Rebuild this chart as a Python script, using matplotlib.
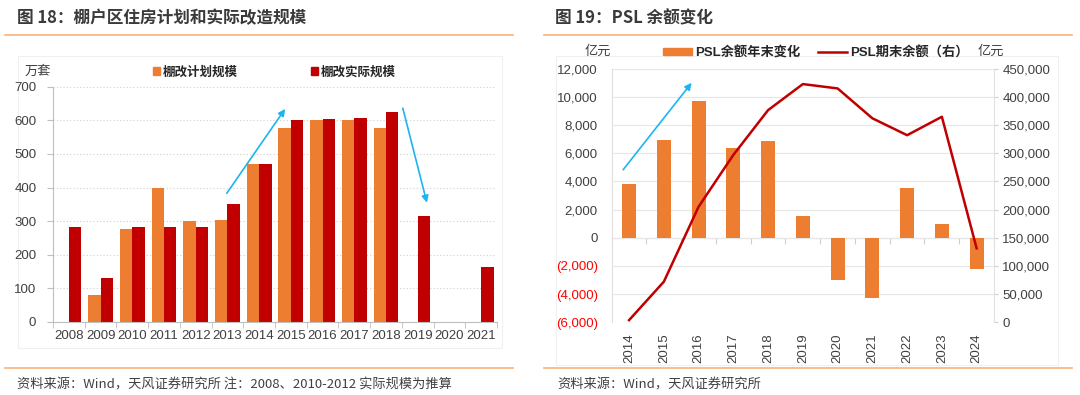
import matplotlib
matplotlib.use('Agg')
import matplotlib.pyplot as plt
import numpy as np
from matplotlib.patches import Rectangle
from matplotlib.lines import Line2D

plt.rcParams['font.family'] = ['Liberation Sans', 'Noto Sans CJK SC']

# ---------------- data ----------------
years_l = ['2008', '2009', '2010', '2011', '2012', '2013', '2014',
           '2015', '2016', '2017', '2018', '2019', '2020', '2021']
plan = [np.nan, 80, 278, 400, 300, 304, 470, 578, 600, 600, 578, np.nan, np.nan, np.nan]
actual = [282, 130, 282, 282, 282, 350, 470, 600, 604, 607, 625, 315, np.nan, 164]

years_r = ['2014', '2015', '2016', '2017', '2018', '2019',
           '2020', '2021', '2022', '2023', '2024']
psl_change = [3800, 6950, 9700, 6360, 6900, 1580, -3020, -4310, 3500, 990, -2240]
psl_balance = [3831, 72000, 205000, 297000, 376500, 422700, 415000, 362000, 332000, 364700, 131300]

ORANGE = '#ED7D31'
RED = '#C00000'
TXT = '#404040'
GRAYAX = '#bfbfbf'
BLUE = '#1EB4F0'
SEP = '#F8B27A'

W, H = 1080, 395
fig = plt.figure(figsize=(W / 100, H / 100), dpi=100)


def px(l, t, r, b):
    return [l / W, 1 - b / H, (r - l) / W, (b - t) / H]


def fx(x):
    return x / W


def fy(y):
    return 1 - y / H


# faint chart-area boxes (drawn behind everything)
for (l, t, r, b) in [(18, 56, 502, 348), (556, 56, 1058, 365)]:
    fig.patches.append(Rectangle((fx(l), fy(b)), fx(r) - fx(l), fy(t) - fy(b),
                                 transform=fig.transFigure, fill=False,
                                 edgecolor='#f0f0f0', lw=0.8, zorder=-5))

# separator lines
for (x0, x1, y) in [(5, 513, 35), (544, 1072, 35), (5, 513, 368), (544, 1072, 368)]:
    fig.add_artist(Line2D([fx(x0), fx(x1)], [fy(y), fy(y)], transform=fig.transFigure,
                          color=SEP, lw=1.2))

# titles
fig.text(fx(17), fy(18), '图 18：棚户区住房计划和实际改造规模', family=['Noto Sans CJK SC'],
         fontsize=12, fontweight='bold', color='#3a3a3a', va='center', ha='left')
fig.text(fx(555), fy(18), '图 19：PSL 余额变化', family=['Noto Sans CJK SC'],
         fontsize=12, fontweight='bold', color='#3a3a3a', va='center', ha='left')

# footers
fig.text(fx(17), fy(385), '资料来源：Wind，天风证券研究所 注：2008、2010-2012 实际规模为推算',
         family=['Noto Sans CJK SC'], fontsize=9.5, color=TXT, va='center', ha='left')
fig.text(fx(557), fy(385), '资料来源：Wind，天风证券研究所',
         family=['Noto Sans CJK SC'], fontsize=9.5, color=TXT, va='center', ha='left')

# ---------------- left chart ----------------
ax = fig.add_axes(px(53, 86.7, 497, 322))
ax.patch.set_alpha(0)
x = np.arange(len(years_l))
w = 0.39
ax.bar(x - w / 2, plan, w, color=ORANGE, zorder=2)
ax.bar(x + w / 2, actual, w, color=RED, zorder=2)
ax.set_xlim(-0.5, len(years_l) - 0.5)
ax.set_ylim(0, 700)
ax.set_yticks(np.arange(0, 701, 100))
ax.yaxis.grid(True, linestyle=(0, (1, 2)), color='#d0d0d0', lw=0.8)
ax.set_axisbelow(True)
for s in ['top', 'right']:
    ax.spines[s].set_visible(False)
for s in ['left', 'bottom']:
    ax.spines[s].set_color(GRAYAX)
    ax.spines[s].set_linewidth(0.8)
ax.set_xticks(x)
ax.set_xticklabels(years_l)
ax.set_xticks(np.arange(-0.5, len(years_l), 1), minor=True)
ax.tick_params(axis='x', which='major', length=0, pad=6, labelsize=9.5, labelcolor=TXT)
ax.tick_params(axis='x', which='minor', length=4, color=GRAYAX)
ax.tick_params(axis='y', length=4, color=GRAYAX, pad=8, labelsize=9.5, labelcolor=TXT)

ann = dict(arrowstyle='-|>', color=BLUE, lw=1.2, mutation_scale=10, shrinkA=0, shrinkB=0)
ax.annotate('', xy=(6.82, 634), xytext=(4.98, 383), arrowprops=ann, annotation_clip=False)
ax.annotate('', xy=(11.29, 355), xytext=(10.53, 636), arrowprops=ann, annotation_clip=False)

fig.text(fx(25), fy(72), '万套', fontsize=9.5, color=TXT, va='center', ha='left')
hl = [Rectangle((0, 0), 1, 1, color=ORANGE), Rectangle((0, 0), 1, 1, color=RED)]
leg = fig.legend(hl, ['棚改计划规模', '棚改实际规模'], loc='center left',
                 bbox_to_anchor=(fx(153), fy(72)), ncol=2, frameon=False,
                 handlelength=0.55, handleheight=0.55, handletextpad=0.2,
                 columnspacing=5.9, borderpad=0, borderaxespad=0,
                 prop={'family': ['Noto Sans CJK SC'], 'size': 9, 'weight': 'bold'})
for t in leg.get_texts():
    t.set_color('#262626')

# ---------------- right chart ----------------
ax2 = fig.add_axes(px(611.7, 68.7, 994, 322.3))
ax2.patch.set_alpha(0)
xr = np.arange(len(years_r))
ax2.bar(xr, psl_change, 0.4, color=ORANGE, zorder=2)
ax2.set_xlim(-0.5, len(years_r) - 0.5)
ax2.set_ylim(-6000, 12000)
yt = np.arange(-6000, 12001, 2000)
labs = [('({:,})'.format(-v) if v < 0 else '{:,}'.format(v)) for v in yt]
ax2.set_yticks(yt)
ax2.set_yticklabels(labs)
for lab, v in zip(ax2.get_yticklabels(), yt):
    lab.set_color('#FF0000' if v < 0 else TXT)
ax2.yaxis.grid(True, color='#e6e6e6', lw=0.8)
ax2.set_axisbelow(True)
for s in ['top', 'bottom', 'right']:
    ax2.spines[s].set_visible(False)
ax2.spines['left'].set_color('#e0e0e0')
ax2.tick_params(axis='y', length=0, pad=10, labelsize=9.5)
ax2.set_xticks(xr)
ax2.set_xticklabels(years_r, rotation=90)
ax2.tick_params(axis='x', length=0, pad=8, labelsize=9.5, labelcolor=TXT)

sec = ax2.secondary_xaxis(6000 / 18000)
sec.set_xticks(np.arange(-0.5, len(years_r), 1))
sec.set_xticklabels([])
sec.spines['bottom'].set_color('#d0d0d0')
sec.spines['bottom'].set_linewidth(0.8)
sec.tick_params(axis='x', length=4, color='#d0d0d0', direction='out')

ax3 = ax2.twinx()
ax3.plot(xr, psl_balance, color=RED, lw=1.8, zorder=3)
ax3.set_ylim(0, 450000)
yt3 = np.arange(0, 450001, 50000)
ax3.set_yticks(yt3)
ax3.set_yticklabels(['{:,}'.format(v) for v in yt3])
for s in ['top', 'bottom', 'left']:
    ax3.spines[s].set_visible(False)
ax3.spines['right'].set_color('#e0e0e0')
ax3.tick_params(axis='y', length=3, color='#d0d0d0', pad=3, labelsize=9.5, labelcolor=TXT)

ax2.annotate('', xy=(1.80, 11000), xytext=(-0.17, 4830), arrowprops=ann, annotation_clip=False)

fig.text(fx(585), fy(52), '亿元', fontsize=9.5, color=TXT, va='center', ha='left')
fig.text(fx(978), fy(52), '亿元', fontsize=9.5, color=TXT, va='center', ha='left')
hr = [Rectangle((0, 0), 1, 1, color=ORANGE), Line2D([0], [0], color=RED, lw=1.8)]
leg2 = fig.legend(hr, ['PSL余额年末变化', 'PSL期末余额（右）'], loc='center left',
                  bbox_to_anchor=(fx(663), fy(53)), ncol=2, frameon=False,
                  handlelength=2.2, handleheight=0.45, handletextpad=0.25,
                  columnspacing=1.3, borderpad=0, borderaxespad=0,
                  prop={'family': ['Liberation Sans', 'Noto Sans CJK SC'], 'size': 9.5, 'weight': 'bold'})
for t in leg2.get_texts():
    t.set_color('#262626')

fig.savefig('out.png', dpi=100)
